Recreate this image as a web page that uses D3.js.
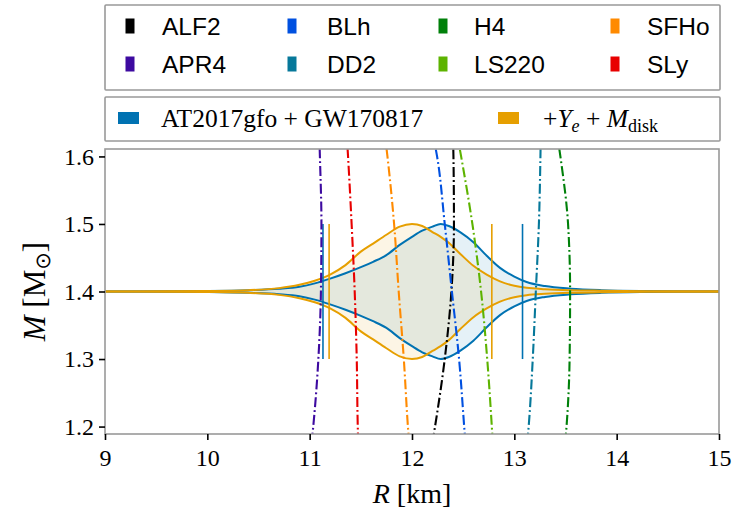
<!DOCTYPE html>
<html><head><meta charset="utf-8">
<script src="https://cdn.jsdelivr.net/npm/d3@7"></script>
<style>body{margin:0;background:#fff}</style>
</head><body>
<svg id="c" width="732" height="514" xmlns="http://www.w3.org/2000/svg"></svg>
<script>
// ---------- data ----------
const eosNames  = ["ALF2","APR4","BLh","DD2","H4","LS220","SFHo","SLy"];
const eosColors = ["#000000","#3d0aa0","#0050e0","#06789a","#00800a","#5db300","#ff8a00","#e80000"];
const legendOrder = ["ALF2","BLh","H4","SFHo","APR4","DD2","LS220","SLy"];
const eosMass = [1.15, 1.2, 1.3, 1.4, 1.5, 1.6, 1.65];
const rALF2  = [12.17, 12.225, 12.32, 12.385, 12.41, 12.405, 12.395];
const rAPR4  = [11.00, 11.035, 11.085, 11.11, 11.115, 11.10, 11.09];
const rBLh   = [12.535, 12.51, 12.46, 12.39, 12.32, 12.245, 12.18];
const rDD2   = [13.11, 13.14, 13.18, 13.21, 13.24, 13.255, 13.26];
const rH4    = [13.48, 13.51, 13.54, 13.545, 13.525, 13.45, 13.40];
const rLS220 = [12.80, 12.78, 12.735, 12.675, 12.59, 12.48, 12.42];
const rSFHo  = [11.985, 11.96, 11.92, 11.87, 11.825, 11.76, 11.72];
const rSLy   = [11.48, 11.47, 11.46, 11.44, 11.41, 11.375, 11.355];
const eosRadii = [rALF2, rAPR4, rBLh, rDD2, rH4, rLS220, rSFHo, rSLy];

const bandCenter = 1.4;
const bandR = [9, 9.5, 10, 10.4, 10.7, 10.9, 11.05, 11.2, 11.35, 11.5, 11.62, 11.75, 11.88, 12.0, 12.1, 12.2, 12.28, 12.36, 12.47, 12.6, 12.73, 12.86, 13.0, 13.12, 13.3, 13.55, 13.85, 14.3, 15];
const blueHalf = [0.0001,0.0003,0.0008,0.002,0.004,0.007,0.012,0.019,0.027,0.036,0.044,0.054,0.069,0.081,0.09,0.096,0.1,0.097,0.088,0.073,0.053,0.035,0.022,0.014,0.008,0.0042,0.002,0.0008,0.0002];
const orangeHalf = [0.0001,0.0003,0.0008,0.002,0.005,0.010,0.016,0.025,0.039,0.059,0.071,0.084,0.096,0.1,0.097,0.088,0.081,0.072,0.056,0.038,0.025,0.015,0.0085,0.0055,0.0035,0.002,0.0012,0.0005,0.0002];
const blueBounds = [11.13, 13.08];
const orangeBounds = [11.19, 12.78];
const boundMass = [1.3, 1.5];
const bandColors = ["#0072b2", "#e69f00"];

const xTicks = [9,10,11,12,13,14,15];
const yTicks = [1.2,1.3,1.4,1.5,1.6];

// ---------- layout ----------
const svg = d3.select("#c");
const L = 105, R = 719, T = 149, B = 434;
const x = d3.scaleLinear().domain([9,15]).range([L,R]);
const y = d3.scaleLinear().domain([1.189,1.611]).range([B,T]);
const serif = "'Liberation Serif','Times New Roman',serif";
const sans = "'Liberation Sans',Arial,sans-serif";

svg.append("defs").append("clipPath").attr("id","clip")
  .append("rect").attr("x",L).attr("y",T).attr("width",R-L).attr("height",B-T);

const plot = svg.append("g").attr("clip-path","url(#clip)");

// bands
const bands = [blueHalf, orangeHalf];
bands.forEach((h,i)=>{
  const pts = bandR.map((r,j)=>({r, lo: bandCenter-h[j], hi: bandCenter+h[j]}));
  plot.append("path").datum(pts)
    .attr("d", d3.area().x(d=>x(d.r)).y0(d=>y(d.lo)).y1(d=>y(d.hi)).curve(d3.curveMonotoneX))
    .attr("fill", bandColors[i]).attr("fill-opacity", 0.1);
});
bands.forEach((h,i)=>{
  const pts = bandR.map((r,j)=>({r, lo: bandCenter-h[j], hi: bandCenter+h[j]}));
  ["hi","lo"].forEach(k=>{
    plot.append("path").datum(pts)
      .attr("d", d3.line().x(d=>x(d.r)).y(d=>y(d[k])).curve(d3.curveMonotoneX))
      .attr("fill","none").attr("stroke", bandColors[i]).attr("stroke-width", 2);
  });
});
[blueBounds, orangeBounds].forEach((b,i)=>{
  b.forEach(r=>{
    plot.append("line").attr("x1",x(r)).attr("x2",x(r))
      .attr("y1",y(boundMass[0])).attr("y2",y(boundMass[1]))
      .attr("stroke", bandColors[i]).attr("stroke-width", 1.6);
  });
});

// EOS curves
eosNames.forEach((n,i)=>{
  const pts = eosMass.map((m,j)=>({m, r: eosRadii[i][j]}));
  plot.append("path").datum(pts)
    .attr("d", d3.line().x(d=>x(d.r)).y(d=>y(d.m)).curve(d3.curveMonotoneY))
    .attr("fill","none").attr("stroke", eosColors[i]).attr("stroke-width", 2.1)
    .attr("stroke-dasharray","10,3,1.8,3");
});

// frame
svg.append("rect").attr("x",L).attr("y",T).attr("width",R-L).attr("height",B-T)
  .attr("fill","none").attr("stroke","#999").attr("stroke-width",1.6);

// axes
const xa = svg.append("g").attr("transform",`translate(0,${B})`)
  .call(d3.axisBottom(x).tickValues(xTicks).tickFormat(d3.format("d")).tickSize(6).tickSizeOuter(0).tickPadding(9));
const ya = svg.append("g").attr("transform",`translate(${L},0)`)
  .call(d3.axisLeft(y).tickValues(yTicks).tickFormat(d3.format(".1f")).tickSize(6).tickSizeOuter(0).tickPadding(5));
[xa,ya].forEach(a=>{
  a.select(".domain").remove();
  a.selectAll(".tick line").attr("stroke","#000").attr("stroke-width",1.6);
  a.selectAll(".tick text").attr("font-family",serif).attr("font-size",24).attr("fill","#000");
});

// axis labels
const xl = svg.append("text").attr("x",(L+R)/2).attr("y",503).attr("text-anchor","middle")
  .attr("font-family",serif).attr("font-size",28).attr("fill","#000");
xl.append("tspan").attr("font-style","italic").text("R");
xl.append("tspan").text(" [km]");

const yl = svg.append("text").attr("transform",`translate(45,${(T+B)/2}) rotate(-90)`)
  .attr("text-anchor","middle").attr("font-family",serif).attr("font-size",31).attr("fill","#000");
yl.append("tspan").attr("font-style","italic").text("M");
yl.append("tspan").text(" [M");
yl.append("tspan").attr("font-size",21).attr("dy",5).attr("font-family","'DejaVu Sans',sans-serif").text("⊙");
yl.append("tspan").attr("dy",-5).text("]");

// legend 1
svg.append("rect").attr("x",105).attr("y",5).attr("width",615).attr("height",85)
  .attr("fill","#fff").attr("stroke","#999").attr("stroke-width",1.6).attr("rx",1);
const colMark = [130, 292, 443, 615];
const colText = [162, 327, 474, 647];
const rowY = [26, 64];
legendOrder.forEach((n,k)=>{
  const c = k % 4, r = Math.floor(k/4);
  const col = eosColors[eosNames.indexOf(n)];
  svg.append("rect").attr("x",colMark[c]-4.5).attr("y",rowY[r]-7.5).attr("width",9).attr("height",15).attr("fill",col);
  svg.append("text").attr("x",colText[c]).attr("y",rowY[r]+9).attr("font-family",sans)
    .attr("font-size",24.5).attr("fill","#000").text(n);
});

// legend 2
svg.append("rect").attr("x",105).attr("y",97).attr("width",615).attr("height",44)
  .attr("fill","#fff").attr("stroke","#999").attr("stroke-width",1.6).attr("rx",1);
svg.append("rect").attr("x",118).attr("y",112).attr("width",21).attr("height",12).attr("fill",bandColors[0]);
svg.append("rect").attr("x",498).attr("y",112).attr("width",21).attr("height",12).attr("fill",bandColors[1]);
svg.append("text").attr("x",161).attr("y",127).attr("font-family",serif).attr("font-size",25.5)
  .attr("fill","#000").text("AT2017gfo + GW170817");
const t2 = svg.append("text").attr("x",543).attr("y",127).attr("font-family",serif).attr("font-size",25.5).attr("fill","#000");
t2.append("tspan").text("+");
t2.append("tspan").attr("font-style","italic").text("Y");
t2.append("tspan").attr("font-style","italic").attr("font-size",18).attr("dy",5).text("e");
t2.append("tspan").attr("dy",-5).text(" + ");
t2.append("tspan").attr("font-style","italic").text("M");
t2.append("tspan").attr("font-size",18).attr("dy",5).text("disk");
</script>
</body></html>
